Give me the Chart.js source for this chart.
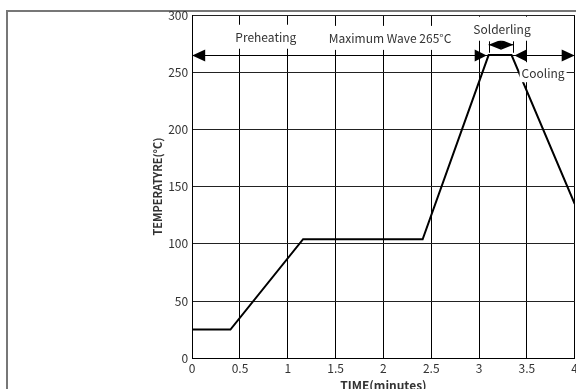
<!DOCTYPE html>
<html>
<head>
<meta charset="utf-8">
<script src="https://cdn.jsdelivr.net/npm/chart.js@4/dist/chart.umd.min.js"></script>
<style>
html,body{margin:0;padding:0;background:#fff;overflow:hidden;width:576px;height:389px;}
#frame{position:absolute;left:6px;top:10px;width:700px;height:500px;border-top:2px solid #777;border-left:2px solid #777;box-sizing:border-box;}
#wrap{position:absolute;left:0;top:0;width:581px;height:393px;}
</style>
</head>
<body>
<div id="frame"></div>
<div id="wrap"><canvas id="c"></canvas></div>
<script>
// Profile data (time in minutes, temperature in °C)
const times = [0, 0.4, 1.16, 2.41, 3.1, 3.34, 4];
const temps = [25, 25, 104, 104, 265, 265, 135];
const xTicks = [0, 0.5, 1, 1.5, 2, 2.5, 3, 3.5, 4];
const yTicks = [0, 50, 100, 150, 200, 250, 300];
const xTitle = 'TIME(minutes)';
const yTitle = 'TEMPERATYRE(°C)';
// Zone labels: [text, x, y]
const labelTexts = ['Preheating', 'Maximum Wave 265°C', 'Solderling', 'Cooling'];
const labelX = [0.77, 2.07, 3.24, 3.67];
const labelY = [281, 280, 288, 250];

const FONT = '"Noto Sans CJK SC", "Noto Sans", sans-serif';

const annot = {
  id: 'annot',
  afterDatasetsDraw(chart) {
    const ctx = chart.ctx, xs = chart.scales.x, ys = chart.scales.y;
    const X = v => xs.getPixelForValue(v), Y = v => ys.getPixelForValue(v);
    ctx.save();
    ctx.strokeStyle = '#000'; ctx.fillStyle = '#000'; ctx.lineWidth = 1;
    // main arrow line at 265
    const ly = Math.round(Y(265)) + 0.5;
    ctx.beginPath(); ctx.moveTo(X(0), ly); ctx.lineTo(X(4), ly); ctx.stroke();
    function head(tipX, y, dir, len, half) {
      ctx.beginPath();
      ctx.moveTo(tipX, y);
      ctx.lineTo(tipX - dir * len, y - half);
      ctx.lineTo(tipX - dir * len, y + half);
      ctx.closePath(); ctx.fill();
    }
    head(X(0), ly, -1, 13, 6);
    head(X(3.08), ly, 1, 12, 6);
    head(X(3.37), ly, -1, 12, 6);
    head(X(4), ly, 1, 13, 6);
    // solder double arrow
    const sy = Y(274);
    const a = X(3.1), b = X(3.36), m = (a + b) / 2;
    ctx.beginPath();
    ctx.moveTo(Math.round(a) + 0.5, Y(277)); ctx.lineTo(Math.round(a) + 0.5, Y(267));
    ctx.moveTo(Math.round(b) + 0.5, Y(277)); ctx.lineTo(Math.round(b) + 0.5, Y(267));
    ctx.moveTo(Math.round(m) + 0.5, Y(276)); ctx.lineTo(Math.round(m) + 0.5, Y(272));
    ctx.moveTo(a, sy); ctx.lineTo(b, sy);
    ctx.stroke();
    head(a, sy, -1, m - a, 5);
    head(b, sy, 1, b - m, 5);
    // text labels with white boxes
    ctx.font = '12px ' + FONT;
    ctx.textAlign = 'center'; ctx.textBaseline = 'middle';
    const padX = [5, 5, 5, 2], padY = [12, 12, 12, 10];
    for (let i = 0; i < labelTexts.length; i++) {
      const cx = X(labelX[i]), cy = Y(labelY[i]);
      const w = ctx.measureText(labelTexts[i]).width;
      ctx.fillStyle = '#fff';
      ctx.fillRect(cx - w / 2 - padX[i], cy - padY[i], w + 2 * padX[i], 2 * padY[i]);
      ctx.fillStyle = '#333';
      ctx.fillText(labelTexts[i], cx, cy + 1);
    }
    ctx.restore();
  }
};

new Chart(document.getElementById('c'), {
  type: 'line',
  data: {
    datasets: [{
      data: times.map((t, i) => ({ x: t, y: temps[i] })),
      borderColor: '#000',
      borderWidth: 2,
      pointRadius: 0,
      tension: 0,
      fill: false
    }]
  },
  options: {
    responsive: true,
    maintainAspectRatio: false,
    animation: false,
    layout: { padding: { left: 151, top: 15, right: 0, bottom: 0 } },
    plugins: { legend: { display: false }, tooltip: { enabled: false } },
    scales: {
      x: {
        type: 'linear', min: 0, max: 4,
        afterBuildTicks: s => { s.ticks = xTicks.map(v => ({ value: v })); },
        ticks: { color: '#333', font: { size: 12, family: FONT }, padding: 3, maxRotation: 0, autoSkip: false, callback: v => String(v) },
        grid: { color: '#000', lineWidth: 1, drawTicks: false },
        border: { color: '#000', width: 1 },
        title: { display: true, text: xTitle, color: '#333', font: { size: 12, weight: 'bold', family: FONT }, padding: { top: 0, bottom: 0 } }
      },
      y: {
        type: 'linear', min: 0, max: 300,
        afterBuildTicks: s => { s.ticks = yTicks.map(v => ({ value: v })); },
        ticks: { color: '#333', font: { size: 12, family: FONT }, padding: 4, callback: v => String(v) },
        grid: { color: '#222', lineWidth: 1, drawTicks: false },
        border: { color: '#000', width: 1 },
        title: { display: true, text: yTitle, color: '#333', font: { size: 11, weight: 'bold', family: FONT }, padding: { top: 0, bottom: 0 } }
      }
    }
  },
  plugins: [annot]
});
</script>
</body>
</html>
